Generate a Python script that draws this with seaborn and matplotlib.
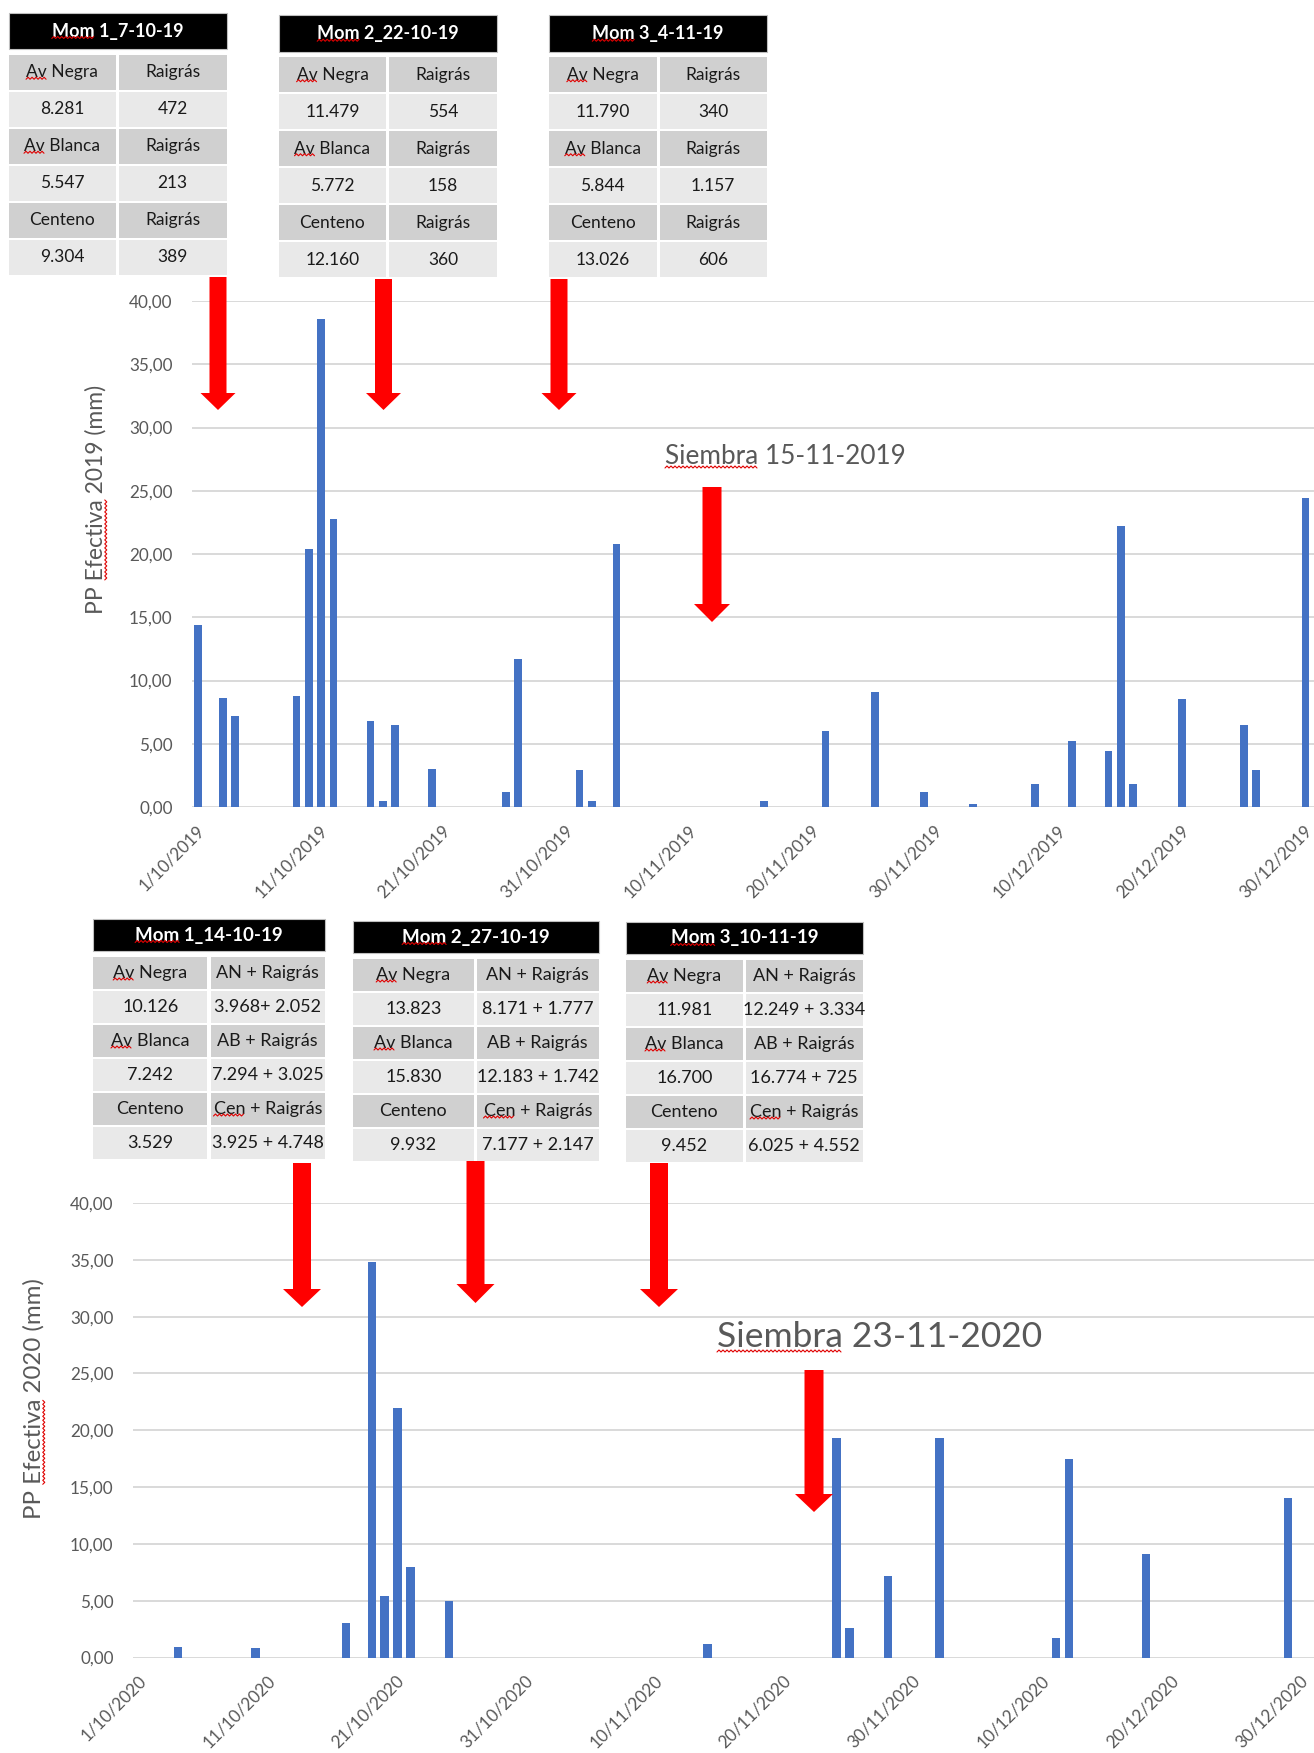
import numpy as np
import pandas as pd
import matplotlib
matplotlib.use("Agg")
import matplotlib.pyplot as plt
from matplotlib.patches import Rectangle, Polygon
from matplotlib.lines import Line2D
import seaborn as sns

# --- datos: PP efectiva diaria (mm) ---
fechas_2019 = ["1/10/2019", "3/10/2019", "4/10/2019", "9/10/2019", "10/10/2019", "11/10/2019",
               "12/10/2019", "15/10/2019", "16/10/2019", "17/10/2019", "20/10/2019", "26/10/2019",
               "27/10/2019", "1/11/2019", "2/11/2019", "4/11/2019", "16/11/2019", "21/11/2019",
               "25/11/2019", "29/11/2019", "3/12/2019", "8/12/2019", "11/12/2019", "14/12/2019",
               "15/12/2019", "16/12/2019", "20/12/2019", "25/12/2019", "26/12/2019", "30/12/2019",
               "31/12/2019"]
pp_2019 = [14.4, 8.6, 7.2, 8.8, 20.4, 38.6, 22.8, 6.8, 0.5, 6.5, 3.0, 1.2, 11.7, 2.9, 0.5, 20.8,
           0.5, 6.0, 9.1, 1.2, 0.2, 1.8, 5.2, 4.4, 22.2, 1.8, 8.5, 6.5, 2.9, 24.4, 0.2]

fechas_2020 = ["4/10/2020", "10/10/2020", "17/10/2020", "19/10/2020", "20/10/2020", "21/10/2020",
               "22/10/2020", "25/10/2020", "14/11/2020", "24/11/2020", "25/11/2020", "28/11/2020",
               "2/12/2020", "11/12/2020", "12/12/2020", "18/12/2020", "29/12/2020"]
pp_2020 = [0.9, 0.8, 3.0, 34.8, 5.4, 22.0, 8.0, 5.0, 1.2, 19.3, 2.6, 7.2, 19.3, 1.7, 17.5, 9.1, 14.0]

ticks_2019 = ["1/10/2019", "11/10/2019", "21/10/2019", "31/10/2019", "10/11/2019",
              "20/11/2019", "30/11/2019", "10/12/2019", "20/12/2019", "30/12/2019"]
ticks_2020 = ["1/10/2020", "11/10/2020", "21/10/2020", "31/10/2020", "10/11/2020",
              "20/11/2020", "30/11/2020", "10/12/2020", "20/12/2020", "30/12/2020"]

etiqueta_y_2019 = "PP Efectiva 2019 (mm)"
etiqueta_y_2020 = "PP Efectiva 2020 (mm)"
siembra_2019 = "Siembra 15-11-2019"
siembra_2020 = "Siembra 23-11-2020"

# --- tablas de cada momento ---
titulos_2019 = ["Mom 1_7-10-19", "Mom 2_22-10-19", "Mom 3_4-11-19"]
celdas_2019 = [
    [["Av Negra", "Raigrás"], ["8.281", "472"], ["Av Blanca", "Raigrás"],
     ["5.547", "213"], ["Centeno", "Raigrás"], ["9.304", "389"]],
    [["Av Negra", "Raigrás"], ["11.479", "554"], ["Av Blanca", "Raigrás"],
     ["5.772", "158"], ["Centeno", "Raigrás"], ["12.160", "360"]],
    [["Av Negra", "Raigrás"], ["11.790", "340"], ["Av Blanca", "Raigrás"],
     ["5.844", "1.157"], ["Centeno", "Raigrás"], ["13.026", "606"]],
]
titulos_2020 = ["Mom 1_14-10-19", "Mom 2_27-10-19", "Mom 3_10-11-19"]
celdas_2020 = [
    [["Av Negra", "AN + Raigrás"], ["10.126", "3.968+ 2.052"], ["Av Blanca", "AB + Raigrás"],
     ["7.242", "7.294 + 3.025"], ["Centeno", "Cen + Raigrás"], ["3.529", "3.925 + 4.748"]],
    [["Av Negra", "AN + Raigrás"], ["13.823", "8.171 + 1.777"], ["Av Blanca", "AB + Raigrás"],
     ["15.830", "12.183 + 1.742"], ["Centeno", "Cen + Raigrás"], ["9.932", "7.177 + 2.147"]],
    [["Av Negra", "AN + Raigrás"], ["11.981", "12.249 + 3.334"], ["Av Blanca", "AB + Raigrás"],
     ["16.700", "16.774 + 725"], ["Centeno", "Cen + Raigrás"], ["9.452", "6.025 + 4.552"]],
]

W, H = 1314, 1753
AZUL = "#4472C4"
GRIS_TXT = "#595959"

sns.set_style("white")
plt.rcParams["font.family"] = ["Lato", "DejaVu Sans"]

fig = plt.figure(figsize=(W / 100, H / 100), dpi=100)


def fx(x):
    return x / W


def fy(y):
    return 1 - y / H


def grafico(ax, fechas, valores, ticks, xmax, ancho):
    inicio = pd.to_datetime(ticks[0], dayfirst=True)
    df = pd.DataFrame({
        "dia": (pd.to_datetime(fechas, dayfirst=True) - inicio).days,
        "pp": valores,
    })
    sns.barplot(data=df, x="dia", y="pp", native_scale=True, width=ancho, color=AZUL,
                saturation=1, errorbar=None, linewidth=0, ax=ax)
    pos = (pd.to_datetime(ticks, dayfirst=True) - inicio).days
    ax.set_xlim(-0.5, xmax)
    ax.set_ylim(0, 40)
    ax.set_yticks(np.arange(0, 41, 5))
    ax.set_yticklabels([f"{v:.2f}".replace(".", ",") for v in np.arange(0, 41, 5)])
    ax.set_xticks(pos + 0.3)
    ax.set_xticklabels(ticks, rotation=45, ha="right", va="center", rotation_mode="anchor")
    ax.tick_params(axis="both", length=0, labelsize=12.3, labelcolor=GRIS_TXT)
    ax.tick_params(axis="x", pad=15)
    ax.tick_params(axis="y", pad=14)
    ax.grid(axis="y", color="#d9d9d9", lw=1.4)
    ax.grid(axis="x", visible=False)
    ax.set_axisbelow(True)
    ax.set_xlabel("")
    ax.set_ylabel("")
    sns.despine(ax=ax, left=True, bottom=True)


ax1 = fig.add_axes([fx(192), fy(807), fx(1314 - 192), (807 - 301) / H])
grafico(ax1, fechas_2019, pp_2019, ticks_2019, 90.7, 0.63)
ax2 = fig.add_axes([fx(133), fy(1657.5), fx(1314 - 133), (1657.5 - 1203) / H])
grafico(ax2, fechas_2020, pp_2020, ticks_2020, 91.0, 0.65)

ylab1 = fig.text(fx(96), fy(499), etiqueta_y_2019, rotation=90, ha="center", va="center",
                 fontsize=16.5, color=GRIS_TXT)
ylab2 = fig.text(fx(34), fy(1399), etiqueta_y_2020, rotation=90, ha="center", va="center",
                 fontsize=17.3, color=GRIS_TXT)


def flecha(xc, y_top, y_base, y_tip, w_cuerpo, w_punta):
    a, b = w_cuerpo / 2, w_punta / 2
    pts = [(xc - a, y_top), (xc + a, y_top), (xc + a, y_base), (xc + b, y_base),
           (xc, y_tip), (xc - b, y_base), (xc - a, y_base)]
    fig.patches.append(Polygon([(fx(x), fy(y)) for x, y in pts], closed=True,
                               transform=fig.transFigure, facecolor="#FF0000",
                               edgecolor="none", zorder=5))


# flechas de los momentos y de la siembra
flecha(218, 277, 393, 410, 17, 35)
flecha(383.5, 279, 393, 410, 17, 35)
flecha(559, 279, 393, 410, 17, 35)
flecha(712, 487, 604, 622, 19, 36)
flecha(302, 1163, 1289, 1307, 18, 38)
flecha(475.5, 1161, 1284, 1303, 18, 38)
flecha(659, 1163, 1289, 1307, 18, 38)
flecha(814, 1370, 1494, 1512, 19, 38)

sie1 = fig.text(fx(665), fy(464), siembra_2019, ha="left", va="baseline", fontsize=18.8,
                color=GRIS_TXT)
sie2 = fig.text(fx(717), fy(1347), siembra_2020, ha="left", va="baseline", fontsize=25.5,
                color=GRIS_TXT)

textos_tabla = []


def tabla(x0, x1, xs, y_tit, h_tit, y_fila, paso, h_fila, titulo, celdas, fs):
    fig.patches.append(Rectangle((fx(x0), fy(y_tit + h_tit)), fx(x1 - x0), h_tit / H,
                                 transform=fig.transFigure, facecolor="black",
                                 edgecolor="#bfbfbf", lw=0.8, zorder=3))
    t = fig.text(fx((x0 + x1) / 2), fy(y_tit + h_tit / 2), titulo, ha="center", va="center",
                 fontsize=fs + 0.5, fontweight="bold", color="white", zorder=6)
    textos_tabla.append((t, "Mom"))
    for i, fila in enumerate(celdas):
        top = y_fila + i * paso
        fondo = "#d0d0d0" if i % 2 == 0 else "#e9e9e9"
        for j, txt in enumerate(fila):
            cx0, cx1 = (x0, xs - 1.5) if j == 0 else (xs + 1.5, x1)
            fig.patches.append(Rectangle((fx(cx0), fy(top + h_fila)), fx(cx1 - cx0), h_fila / H,
                                         transform=fig.transFigure, facecolor=fondo,
                                         edgecolor="none", zorder=3))
            t = fig.text(fx((cx0 + cx1) / 2), fy(top + h_fila / 2), txt, ha="center",
                         va="center", fontsize=fs, color="#1a1a1a", zorder=6)
            if txt.startswith("Av "):
                textos_tabla.append((t, "Av"))
            elif txt.startswith("Cen "):
                textos_tabla.append((t, "Cen"))


tabla(8.5, 226.5, 117, 13, 36, 55, 37, 34.5, titulos_2019[0], celdas_2019[0], 12.5)
tabla(279, 497, 387.5, 15.5, 36.5, 57.5, 37, 34.5, titulos_2019[1], celdas_2019[1], 12.5)
tabla(549, 767, 658, 15.5, 36.5, 57.5, 37, 34.5, titulos_2019[2], celdas_2019[2], 12.5)
tabla(93, 325, 209, 919, 32, 957, 34, 32, titulos_2020[0], celdas_2020[0], 13)
tabla(353, 599, 475, 921, 32, 959, 34, 32, titulos_2020[1], celdas_2020[1], 13)
tabla(626, 863, 744, 922, 32, 960, 34, 32, titulos_2020[2], celdas_2020[2], 13)

# subrayado ondulado rojo del corrector ortografico
rend = fig.canvas.get_renderer()


def ancho(s, ref):
    t = fig.text(0, 0, s, fontproperties=ref.get_fontproperties())
    w = t.get_window_extent(rend).width
    t.remove()
    return w


def onda(a, b, c, vertical=False):
    k = np.arange(a, b, 2.0)
    d = c + np.where(np.arange(len(k)) % 2 == 0, -1.0, 1.0)
    xs, ys = (d, k) if vertical else (k, d)
    fig.add_artist(Line2D(xs / W, ys / H, transform=fig.transFigure, color="#e00000",
                          lw=0.8, zorder=7))


def subrayar(t, palabra, vertical=False):
    bb = t.get_window_extent(rend)
    s = t.get_text()
    fin = ancho(s[:s.index(palabra) + len(palabra)], t)
    ini = fin - ancho(palabra, t)
    if vertical:
        onda(bb.y0 + ini, bb.y0 + fin, bb.x1 - 1, vertical=True)
    else:
        onda(bb.x0 + ini, bb.x0 + fin, bb.y0 + 2)


for t, palabra in textos_tabla:
    subrayar(t, palabra)
subrayar(sie1, "Siembra")
subrayar(sie2, "Siembra")
subrayar(ylab1, "Efectiva", vertical=True)
subrayar(ylab2, "Efectiva", vertical=True)

fig.savefig("out.png", dpi=100)
